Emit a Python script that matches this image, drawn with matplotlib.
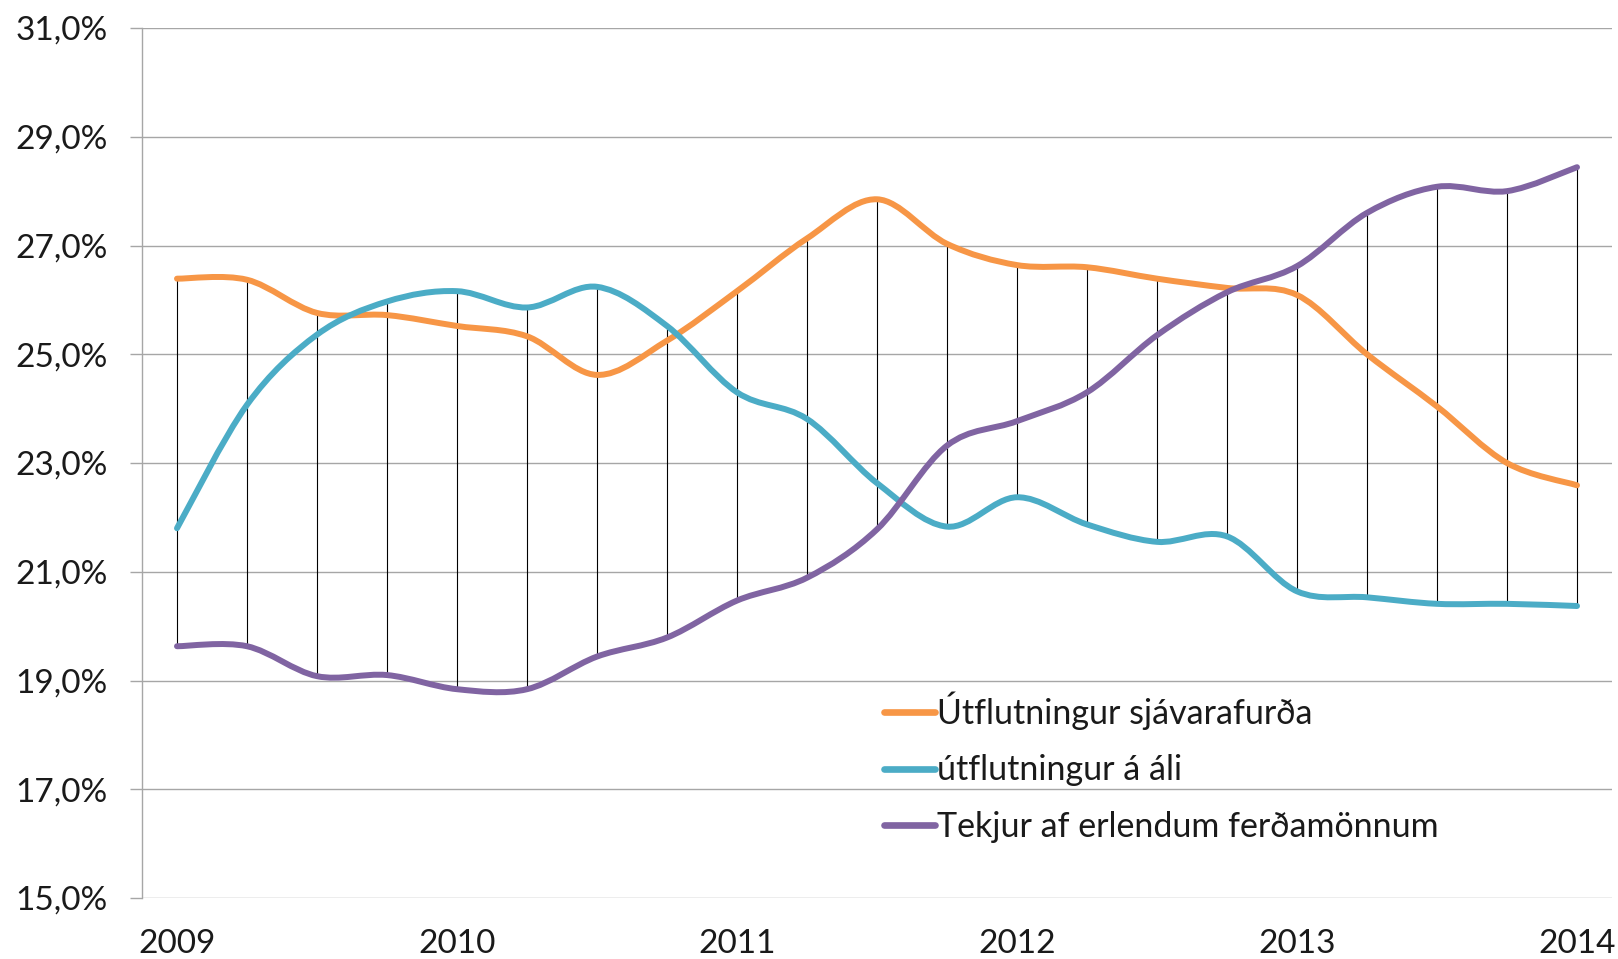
import numpy as np
import matplotlib
matplotlib.use("Agg")
import matplotlib.pyplot as plt
from matplotlib.path import Path
from matplotlib.patches import PathPatch

# quarterly values, 2009 Q1 .. 2014 Q1 (share of export revenue, %)
sjavarafurdir = [26.39, 26.37, 25.76, 25.72, 25.52, 25.33, 24.62, 25.25, 26.16, 27.13,
                 27.85, 27.03, 26.64, 26.60, 26.39, 26.22, 26.09, 25.00, 24.04, 23.00, 22.59]
ali = [21.80, 24.07, 25.36, 25.97, 26.16, 25.86, 26.24, 25.52, 24.30, 23.81,
       22.63, 21.83, 22.37, 21.87, 21.55, 21.65, 20.64, 20.53, 20.41, 20.41, 20.37]
ferdamenn = [19.63, 19.63, 19.08, 19.10, 18.84, 18.84, 19.44, 19.79, 20.47, 20.89,
             21.78, 23.32, 23.77, 24.30, 25.35, 26.14, 26.62, 27.60, 28.08, 28.00, 28.44]

series_names = ["Útflutningur sjávarafurða", "útflutningur á áli", "Tekjur af erlendum ferðamönnum"]
colors = ["#F79646", "#4BACC6", "#8064A2"]
year_labels = ["2009", "2010", "2011", "2012", "2013", "2014"]
y_ticks = [15, 17, 19, 21, 23, 25, 27, 29, 31]

plt.rcParams['font.family'] = ['Lato', 'DejaVu Sans']

x = np.arange(len(ali))


def smooth_path(xs, ys, t=1 / 6):
    # Catmull-Rom style cubic Bezier through the points (like Excel's smoothed line)
    pts = np.column_stack([xs, ys]).astype(float)
    verts = [pts[0]]
    codes = [Path.MOVETO]
    n = len(pts)
    for i in range(n - 1):
        p0 = pts[i - 1] if i > 0 else pts[i]
        p1 = pts[i]
        p2 = pts[i + 1]
        p3 = pts[i + 2] if i + 2 < n else pts[i + 1]
        c1 = p1 + (p2 - p0) * t
        c2 = p2 - (p3 - p1) * t
        verts += [c1, c2, p2]
        codes += [Path.CURVE4] * 3
    return Path(verts, codes)


fig = plt.figure(figsize=(16.18, 9.59), dpi=100)
ax = fig.add_axes([142 / 1618, 1 - 898 / 959, (1612 - 142) / 1618, (898 - 28) / 959])

# high-low lines
data = np.array([sjavarafurdir, ali, ferdamenn])
ax.vlines(x, data.min(axis=0), data.max(axis=0), color="black", lw=0.8, zorder=2)

for ys, c, name in zip(data, colors, series_names):
    patch = PathPatch(smooth_path(x, ys), facecolor="none", edgecolor=c, lw=4.3,
                      capstyle="round", joinstyle="round", zorder=3)
    ax.add_patch(patch)
    ax.plot([], [], color=c, lw=4.8, solid_capstyle="round", label=name)

ax.set_xlim(-0.5, len(x) - 0.5)
ax.set_ylim(15, 31)
ax.set_yticks(y_ticks)
ax.set_yticklabels([f"{v:.1f}%".replace(".", ",") for v in y_ticks], fontsize=24, color="#1a1a1a")
ax.set_xticks(x[::4])
ax.set_xticklabels(year_labels, fontsize=24, color="#1a1a1a")
ax.tick_params(axis="x", length=0, pad=22)
ax.tick_params(axis="y", length=8.5, width=1, color="#a6a6a6", pad=16)
ax.grid(axis="y", color="#a6a6a6", lw=1, zorder=1)
for s in ["top", "right", "bottom"]:
    ax.spines[s].set_visible(False)
ax.spines["left"].set_color("#a6a6a6")
ax.spines["left"].set_linewidth(1)

leg = ax.legend(loc="upper left", bbox_to_anchor=(0.505, 0.237), frameon=False,
                fontsize=24.5, handlelength=1.5, handletextpad=0.05, labelspacing=0.71,
                borderaxespad=0, borderpad=0)
for t in leg.get_texts():
    t.set_color("#1a1a1a")

fig.savefig("out.png", dpi=100)
